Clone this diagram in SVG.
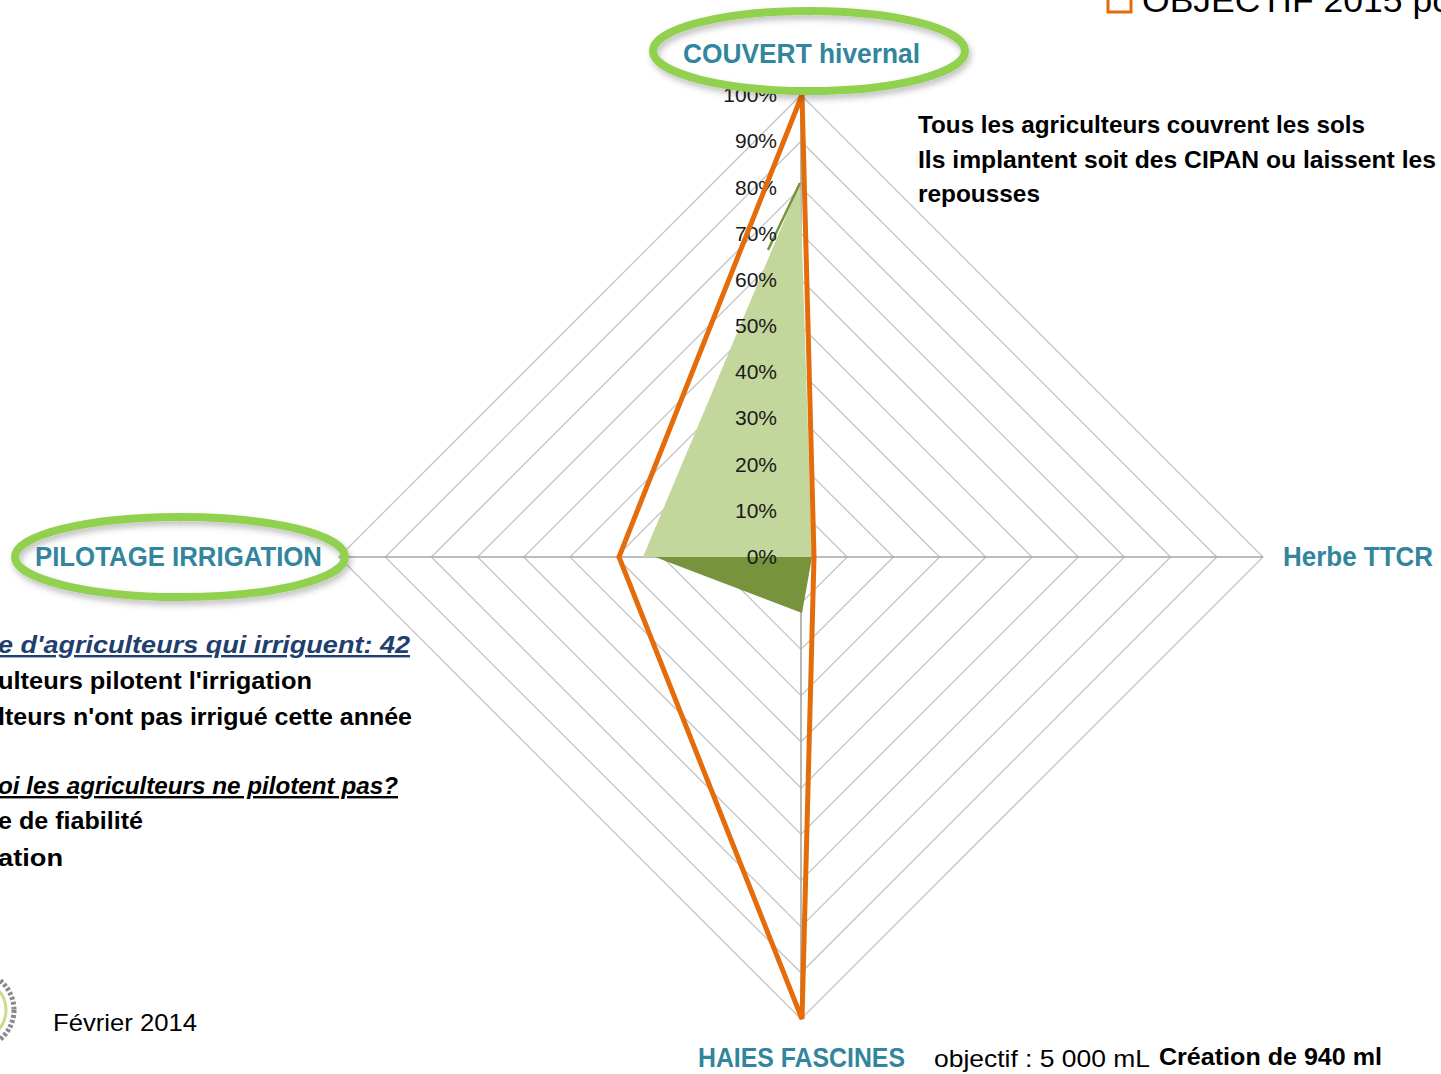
<svg xmlns="http://www.w3.org/2000/svg" width="1441" height="1074" viewBox="0 0 1441 1074">
<defs>
<style>
.grid{fill:none;stroke:#C4C4C4;stroke-width:1.3}
.axis{stroke:#A6A6A6;stroke-width:1.6}
.pct{font-family:"Liberation Sans",Arial,sans-serif;font-size:21px;fill:#1a1a1a;text-anchor:end}
.cat{font-family:"Liberation Sans",Arial,sans-serif;font-size:27px;font-weight:bold;fill:#31859C}
.note{font-family:"Liberation Sans",Arial,sans-serif;font-size:24px;font-weight:bold;fill:#000}
.left{text-anchor:end}
.q{font-style:italic;text-decoration:underline}
.ring{fill:none;stroke:#92D050;stroke-width:8}
</style>
<filter id="sh" x="-20%" y="-30%" width="140%" height="160%">
<feDropShadow dx="2" dy="4" stdDeviation="3" flood-color="#000" flood-opacity="0.25"/>
</filter>
</defs>
<rect width="1441" height="1074" fill="#fff"/>

<g id="grid">
<polygon class="grid" points="801,510.8 847.2,557 801,603.2 754.8,557"/>
<polygon class="grid" points="801,464.6 893.4,557 801,649.4 708.6,557"/>
<polygon class="grid" points="801,418.4 939.6,557 801,695.6 662.4,557"/>
<polygon class="grid" points="801,372.2 985.8,557 801,741.8 616.2,557"/>
<polygon class="grid" points="801,326 1032,557 801,788 570,557"/>
<polygon class="grid" points="801,279.8 1078.2,557 801,834.2 523.8,557"/>
<polygon class="grid" points="801,233.6 1124.4,557 801,880.4 477.6,557"/>
<polygon class="grid" points="801,187.4 1170.6,557 801,926.6 431.4,557"/>
<polygon class="grid" points="801,141.2 1216.8,557 801,972.8 385.2,557"/>
<polygon class="grid" points="801,95 1263,557 801,1019 339,557"/>
<line class="axis" x1="801" y1="95" x2="801" y2="1019"/>
<line class="axis" x1="339" y1="557" x2="1263" y2="557"/>
</g>

<g id="series-green">
<polygon points="643,557 800,183 812,557" fill="#C3D69B"/>
<polygon points="655,557 802,613 812,557" fill="#77933C"/>
<line x1="800" y1="183" x2="768" y2="250" stroke="#77933C" stroke-width="2.5"/>
</g>

<g id="axis-labels">
<text class="pct" x="777" y="564">0%</text>
<text class="pct" x="777" y="518">10%</text>
<text class="pct" x="777" y="472">20%</text>
<text class="pct" x="777" y="425">30%</text>
<text class="pct" x="777" y="379">40%</text>
<text class="pct" x="777" y="333">50%</text>
<text class="pct" x="777" y="287">60%</text>
<text class="pct" x="777" y="241">70%</text>
<text class="pct" x="777" y="195">80%</text>
<text class="pct" x="777" y="148">90%</text>
<text class="pct" x="777" y="102">100%</text>
</g>

<g id="series-orange">
<polygon points="802,95 814,557 802,1019 619,557" fill="none" stroke="#E46C0A" stroke-width="5" stroke-linejoin="miter"/>
</g>

<g id="node-couvert">
<ellipse class="ring" cx="809" cy="51" rx="156" ry="40" filter="url(#sh)"/>
<text class="cat" x="683" y="63" textLength="237" lengthAdjust="spacingAndGlyphs">COUVERT hivernal</text>
</g>

<g id="node-pilotage">
<ellipse class="ring" cx="180" cy="557" rx="165" ry="40" filter="url(#sh)"/>
<text class="cat" x="35" y="566" textLength="287" lengthAdjust="spacingAndGlyphs">PILOTAGE IRRIGATION</text>
</g>

<g id="node-herbe">
<text class="cat" x="1283" y="566" textLength="150" lengthAdjust="spacingAndGlyphs">Herbe TTCR</text>
</g>

<g id="node-haies">
<text class="cat" x="698" y="1067" textLength="207" lengthAdjust="spacingAndGlyphs">HAIES FASCINES</text>
<text x="934" y="1067" font-family="Liberation Sans, Arial, sans-serif" font-size="24" fill="#000" textLength="216" lengthAdjust="spacingAndGlyphs">objectif : 5 000 mL</text>
<text class="note" x="1159" y="1065" textLength="223" lengthAdjust="spacingAndGlyphs">Création de 940 ml</text>
</g>

<g id="note-couvert">
<text class="note" x="918" y="133" textLength="447" lengthAdjust="spacingAndGlyphs">Tous les agriculteurs couvrent les sols</text>
<text class="note" x="918" y="168" textLength="518" lengthAdjust="spacingAndGlyphs">Ils implantent soit des CIPAN ou laissent les</text>
<text class="note" x="918" y="202" textLength="122" lengthAdjust="spacingAndGlyphs">repousses</text>
</g>

<g id="note-pilotage">
<text class="note left q" x="410" y="653" fill="#1F3F6E" style="fill:#1F3F6E" textLength="412" lengthAdjust="spacingAndGlyphs">e d'agriculteurs qui irriguent: 42</text>
<text class="note left" x="312" y="689" textLength="314" lengthAdjust="spacingAndGlyphs">ulteurs pilotent l'irrigation</text>
<text class="note left" x="412" y="725" textLength="414" lengthAdjust="spacingAndGlyphs">lteurs n'ont pas irrigué cette année</text>
<text class="note left q" x="398" y="794" textLength="400" lengthAdjust="spacingAndGlyphs">oi les agriculteurs ne pilotent pas?</text>
<text class="note left" x="143" y="829" textLength="145" lengthAdjust="spacingAndGlyphs">e de fiabilité</text>
<text class="note left" x="63" y="866" textLength="65" lengthAdjust="spacingAndGlyphs">ation</text>
</g>

<g id="legend">
<rect x="1108" y="-8" width="23" height="20" fill="none" stroke="#E46C0A" stroke-width="3"/>
<text x="1142" y="12" font-family="Liberation Sans, Arial, sans-serif" font-size="34" fill="#000" textLength="310" lengthAdjust="spacingAndGlyphs">OBJECTIF 2015 po</text>
</g>

<g id="footer">
<circle cx="-24" cy="1010" r="38" fill="none" stroke="#8a8a8a" stroke-width="5" stroke-dasharray="3 2"/>
<circle cx="-24" cy="1010" r="30" fill="none" stroke="#C9DE8A" stroke-width="3"/>
<text x="53" y="1031" font-family="Liberation Sans, Arial, sans-serif" font-size="24" fill="#000" textLength="144" lengthAdjust="spacingAndGlyphs">Février 2014</text>
</g>
</svg>
